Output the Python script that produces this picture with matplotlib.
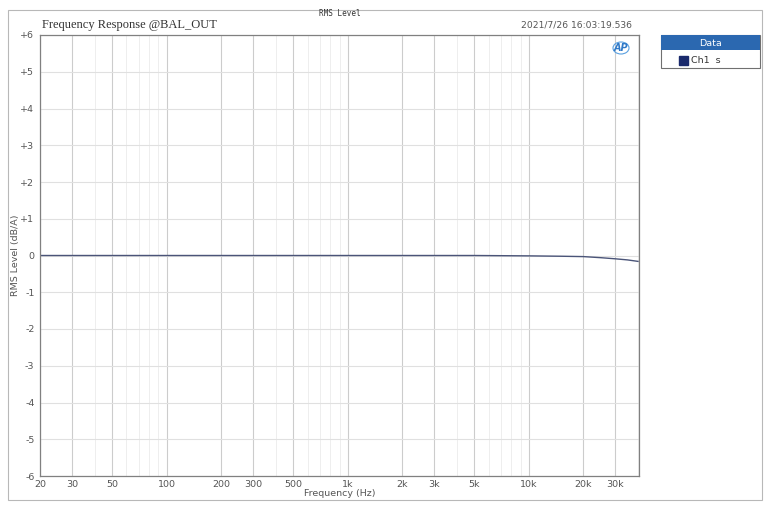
import matplotlib
matplotlib.use("Agg")
import matplotlib.pyplot as plt
from matplotlib.patches import Rectangle, Ellipse
from matplotlib.ticker import FixedLocator, NullFormatter

freq_hz = [20, 50, 100, 1000, 5000, 10000, 15000, 20000, 25000, 30000, 35000, 40000]
level_db = [0.0, 0.0, 0.0, 0.0, 0.0, -0.01, -0.02, -0.03, -0.06, -0.09, -0.12, -0.16]

x_major = [20, 30, 50, 100, 200, 300, 500, 1000, 2000, 3000, 5000, 10000, 20000, 30000]
x_labels = ["20", "30", "50", "100", "200", "300", "500", "1k", "2k", "3k", "5k", "10k", "20k", "30k"]
x_minor = [40, 60, 70, 80, 90, 400, 600, 700, 800, 900, 4000, 6000, 7000, 8000, 9000, 40000]
y_ticks = [-6, -5, -4, -3, -2, -1, 0, 1, 2, 3, 4, 5, 6]
y_labels = ["-6", "-5", "-4", "-3", "-2", "-1", "0", "+1", "+2", "+3", "+4", "+5", "+6"]

W, H = 772, 508
fig = plt.figure(figsize=(W / 100, H / 100), dpi=100)
fig.patch.set_facecolor("white")

# outer frame
fig.add_artist(Rectangle((8 / W, 1 - 500 / H), (762 - 8) / W, (500 - 10) / H,
                         transform=fig.transFigure, fill=False, ec="#b8b8b8", lw=0.8))

ax = fig.add_axes([40 / W, 1 - 476 / H, (639 - 40) / W, (476 - 35) / H])
ax.set_xscale("log")
ax.set_xlim(20, 40500)
ax.set_ylim(-6, 6)

ax.xaxis.set_major_locator(FixedLocator(x_major))
ax.set_xticklabels(x_labels)
ax.xaxis.set_minor_locator(FixedLocator(x_minor))
ax.xaxis.set_minor_formatter(NullFormatter())
ax.set_yticks(y_ticks)
ax.set_yticklabels(y_labels)

ax.grid(True, which="major", axis="x", color="#cccccc", lw=0.8)
ax.grid(True, which="minor", axis="x", color="#eeeeee", lw=0.7)
ax.grid(True, which="major", axis="y", color="#e0e0e0", lw=0.8)
ax.set_axisbelow(True)

ax.tick_params(which="both", length=0, labelsize=6.8, colors="#555555", pad=3)
ax.tick_params(axis="y", pad=4)
for s in ax.spines.values():
    s.set_color("#808080")
    s.set_linewidth(0.9)

ax.plot(freq_hz, level_db, color="#4a5478", lw=1.0)

ax.set_xlabel("Frequency (Hz)", fontsize=6.8, color="#555555", va="center")
ax.xaxis.set_label_coords(0.5, (476 - 493) / 441)
ax.set_ylabel("RMS Level (dB/A)", fontsize=6.8, color="#555555", va="center")
ax.yaxis.set_label_coords((16 - 40) / 599, 0.5)

fig.text(42 / W, 1 - 28 / H, "Frequency Response @BAL_OUT", fontsize=9.0,
         family="Liberation Serif", color="#333333", va="baseline")
fig.text(340 / W, 1 - 16 / H, "RMS Level", fontsize=5.5, family="DejaVu Sans Mono",
         color="#333333", ha="center", va="baseline")
fig.text(632 / W, 1 - 28 / H, "2021/7/26 16:03:19.536", fontsize=6.6,
         color="#555555", ha="right", va="baseline")
fig.add_artist(Ellipse((621 / W, 1 - 48 / H), 16 / W, 12 / H, transform=fig.transFigure,
                       fill=False, ec="#5aa0e0", lw=0.8))
fig.text(621 / W, 1 - 48 / H, "AP", fontsize=7, fontweight="bold", style="italic",
         color="#2f79c8", ha="center", va="center")

# legend box
fig.add_artist(Rectangle((661 / W, 1 - 68 / H), 99 / W, 33 / H,
                         transform=fig.transFigure, fc="white", ec="#707070", lw=0.8))
fig.add_artist(Rectangle((661 / W, 1 - 50 / H), 99 / W, 15 / H,
                         transform=fig.transFigure, fc="#2b68b0", ec="none"))
fig.text(710 / W, 1 - 43 / H, "Data", fontsize=6.8, color="white", ha="center", va="center")
fig.add_artist(Rectangle((679 / W, 1 - 65 / H), 9 / W, 9 / H,
                         transform=fig.transFigure, fc="#1a2a6c", ec="#1a2a6c"))
fig.text(691 / W, 1 - 60.5 / H, "Ch1  s", fontsize=6.8, color="#333333", ha="left", va="center")

fig.savefig("out.png", dpi=100)
